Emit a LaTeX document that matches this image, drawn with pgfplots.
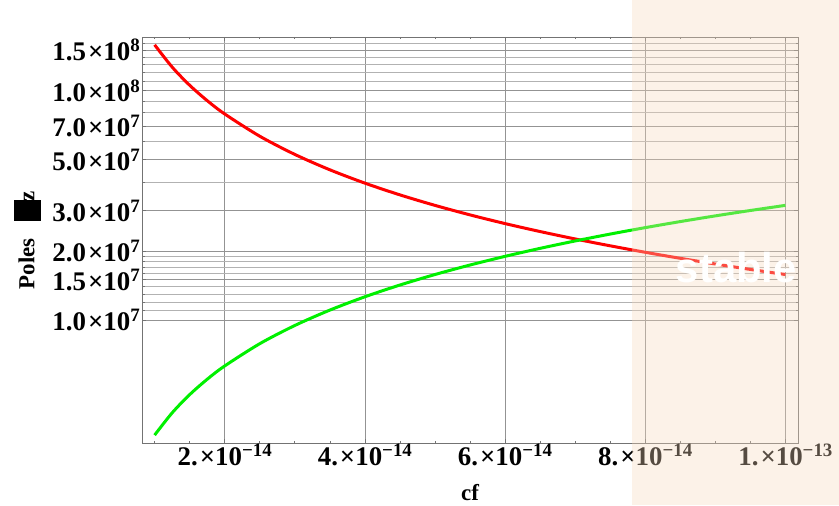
\documentclass[border=0pt]{standalone}
\usepackage{pgfplots}
\pgfplotsset{compat=1.18}
\usepackage{fontspec}
\setmainfont{Liberation Serif}
\newfontfamily\sansf{Liberation Sans}
\definecolor{beigeov}{RGB}{246,217,188}
\definecolor{axgray}{RGB}{115,115,115}
\definecolor{mygreen}{RGB}{0,240,0}
\newcommand\tl[2]{{\fontsize{27}{30}\selectfont\bfseries #1\hspace{2bp}×10\raisebox{9bp}{\fontsize{19}{20}\selectfont #2}}}
\begin{document}
\begin{tikzpicture}
\begin{axis}[name=ax, scale only axis, width=656bp, height=406bp,
  ymode=log, xmin=0.82e-14, xmax=1.018e-13, ymin=2.92e6, ymax=1.709e8,
  scaled x ticks=false, scaled y ticks=false,
  xtick={2e-14,4e-14,6e-14,8e-14,1e-13},
  xticklabels={\tl{2.}{−14},\tl{4.}{−14},\tl{6.}{−14},\tl{8.}{−14},\tl{1.}{−13}},
  minor xtick={1e-14,1.5e-14,2.5e-14,3e-14,3.5e-14,4.5e-14,5e-14,5.5e-14,6.5e-14,7e-14,7.5e-14,8.5e-14,9e-14,9.5e-14},
  ytick={1e7,1.5e7,2e7,3e7,5e7,7e7,1e8,1.5e8},
  yticklabels={\tl{1.0}{7},\tl{1.5}{7},\tl{2.0}{7},\tl{3.0}{7},\tl{5.0}{7},\tl{7.0}{7},\tl{1.0}{8},\tl{1.5}{8}},
  minor ytick={1.1e7,1.2e7,1.3e7,1.4e7,1.6e7,1.7e7,1.8e7,1.9e7,4e7,6e7,8e7,9e7,1.1e8,1.2e8,1.3e8,1.4e8,1.6e8,1.7e8},
  xmajorgrids, ymajorgrids, yminorgrids,
  major grid style={draw=gray!85, line width=0.6bp},
  minor grid style={draw=gray!60, line width=0.5bp},
  axis line style={axgray, line width=0.9bp},
  tick style={axgray, line width=0.6bp},
  tick align=inside, major tick length=4bp, minor tick length=2.5bp,
  xticklabel style={yshift=1bp, inner sep=2bp},
  yticklabel style={inner sep=2bp},
  xlabel={cf}, ylabel={Poles\hspace{17bp}\rule[-7bp]{21bp}{27bp}\hspace{-1bp}z},
  label style={font=\fontsize{23}{26}\selectfont\bfseries},
  xlabel style={at={(axis description cs:0.5,-0.123)}, anchor=center},
  ylabel style={at={(axis description cs:-0.174,0.5)}, anchor=center},
]
\addplot[red, line width=3bp, smooth] coordinates {
(1e-14,1.58e8) (1.25e-14,1.264e8) (1.5e-14,1.0533e8) (1.75e-14,9.03e7) (2e-14,7.9e7) (2.5e-14,6.32e7) (3e-14,5.267e7) (3.5e-14,4.514e7) (4e-14,3.95e7) (4.5e-14,3.511e7) (5e-14,3.16e7) (5.5e-14,2.873e7) (6e-14,2.633e7) (6.5e-14,2.431e7) (7e-14,2.257e7) (7.5e-14,2.107e7) (8e-14,1.975e7) (8.5e-14,1.859e7) (9e-14,1.756e7) (9.5e-14,1.663e7) (1e-13,1.58e7)};
\addplot[mygreen, line width=3bp, smooth] coordinates {
(1e-14,3.16e6) (1.25e-14,3.95e6) (1.5e-14,4.74e6) (1.75e-14,5.53e6) (2e-14,6.32e6) (2.5e-14,7.9e6) (3e-14,9.48e6) (3.5e-14,1.106e7) (4e-14,1.264e7) (4.5e-14,1.422e7) (5e-14,1.58e7) (5.5e-14,1.738e7) (6e-14,1.896e7) (6.5e-14,2.054e7) (7e-14,2.212e7) (7.5e-14,2.37e7) (8e-14,2.528e7) (8.5e-14,2.686e7) (9e-14,2.844e7) (9.5e-14,3.002e7) (1e-13,3.16e7)};
\coordinate (L) at (axis cs:7.81e-14,1e7);
\coordinate (S) at (axis cs:9.3e-14,1.456e7);
\end{axis}
\path (ax.south west) ++(-142bp,-62bp) coordinate (BL);
\path (ax.north east) ++(41bp,37bp) coordinate (TR);
\fill[beigeov, opacity=0.35] (L |- BL) rectangle (TR);
\node[anchor=base, text=white, font=\sansf\bfseries\fontsize{42}{48}\selectfont, inner sep=0pt] at (S) {stable};
\pgfresetboundingbox
\path (BL) rectangle (TR);
\end{tikzpicture}
\end{document}
